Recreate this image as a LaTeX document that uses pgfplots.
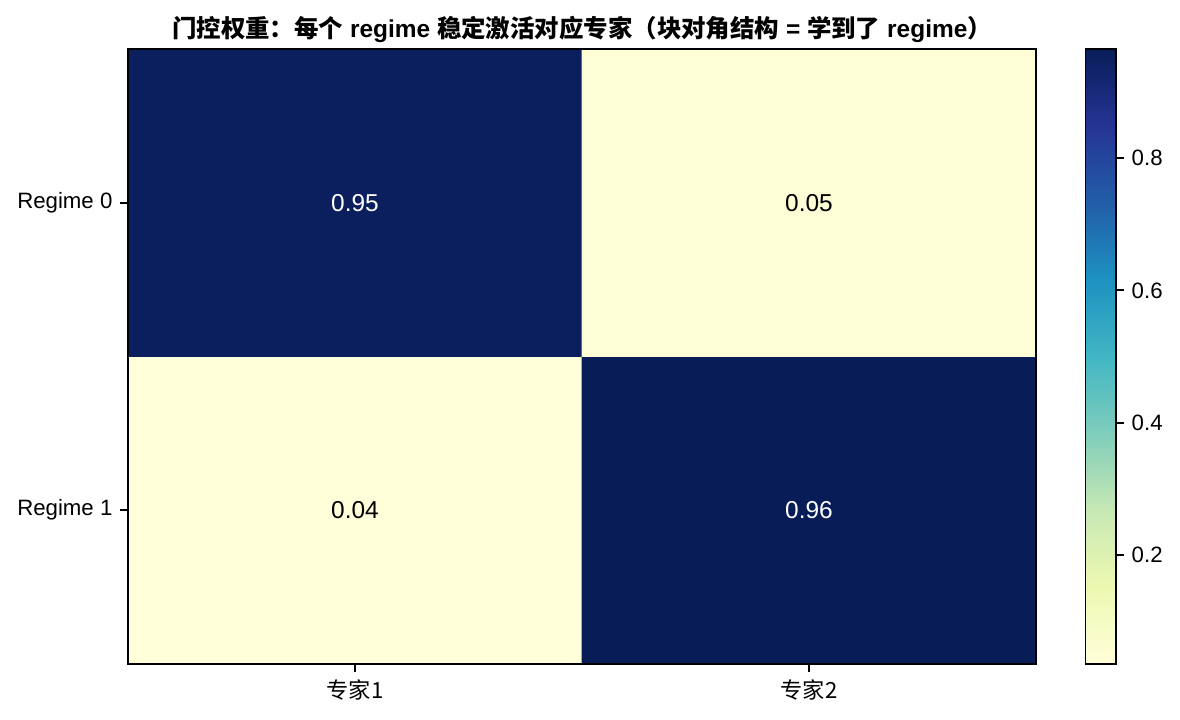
\documentclass[border=0pt]{standalone}
\usepackage{fontspec}
\setmainfont{Liberation Sans}
\newfontfamily\cjk{Noto Sans CJK SC}
\usepackage{pgfplots}
\pgfplotsset{compat=1.18}
\pgfplotsset{colormap={ylgnbu}{rgb255=(255,255,217) rgb255=(237,248,177) rgb255=(199,233,180) rgb255=(127,205,187) rgb255=(65,182,196) rgb255=(29,145,192) rgb255=(34,94,168) rgb255=(37,52,148) rgb255=(8,29,88)}}
\newcommand\zh[1]{{\cjk #1}}
\begin{document}
\begin{tikzpicture}
\useasboundingbox (-57.6bp,-24.75bp) rectangle (473.4bp,298.8bp);
\begin{axis}[
  at={(0,0)}, anchor=south west,
  scale only axis, width=408.6bp, height=276.75bp,
  xmin=-0.5, xmax=1.5, ymin=-0.5, ymax=1.5,
  xtick={0,1}, ytick={0,1},
  xticklabels={\zh{专家1},\zh{专家2}},
  yticklabels={Regime 1,Regime 0},
  tick align=outside, tick pos=left, major tick length=3.5bp,
  every tick/.style={black, line width=0.8bp},
  axis line style={line width=0.8bp},
  ticklabel style={font=\fontsize{10bp}{12bp}\selectfont},
  colormap name=ylgnbu, point meta min=0.035, point meta max=0.965,
  colorbar,
  colorbar style={
    at={(parent axis.north east)}, anchor=north west, xshift=13.75bp,
    width=13.8bp,
    ytick={0.2,0.4,0.6,0.8}, yticklabels={0.2,0.4,0.6,0.8},
    yticklabel style={font=\fontsize{10bp}{12bp}\selectfont},
    tick pos=right, yticklabel pos=right,
    major tick length=3.5bp, tick align=outside,
    axis line style={line width=0.8bp},
    every tick/.style={black, line width=0.8bp},
  },
  title={\bfseries\zh{门控权重：每个} regime \zh{稳定激活对应专家（块对角结构} = \zh{学到了} regime\zh{）}},
  title style={font=\fontsize{11bp}{13bp}\selectfont, anchor=south, inner sep=0pt, at={(0.5,1)}, yshift=-3.2bp},
  axis on top,
]
\addplot[matrix plot*, mesh/cols=2, point meta=explicit] table[meta=c] {
x y c
0 0 0.035
1 0 0.965
0 1 0.954
1 1 0.046
};
\addplot[only marks, mark=none, nodes near coords, point meta=explicit symbolic,
  nodes near coords style={anchor=center, text=white, font=\fontsize{11bp}{13bp}\selectfont}] table[meta=t] {
x y t
0 1 0.95
1 0 0.96
};
\addplot[only marks, mark=none, nodes near coords, point meta=explicit symbolic,
  nodes near coords style={anchor=center, text=black, font=\fontsize{11bp}{13bp}\selectfont}] table[meta=t] {
x y t
1 1 0.05
0 0 0.04
};
\end{axis}
\end{tikzpicture}
\end{document}
